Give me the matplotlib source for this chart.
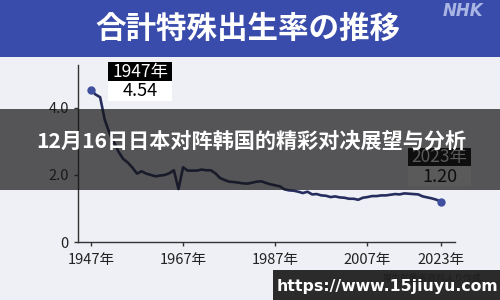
import numpy as np
import matplotlib
matplotlib.use("Agg")
import matplotlib.pyplot as plt
from matplotlib.patches import Rectangle

plt.rcParams['font.family'] = ['Noto Sans CJK JP', 'DejaVu Sans']

# total fertility rate, Japan
years = list(range(1947, 2024))
tfr = [4.54, 4.40, 4.32, 3.65, 3.26, 2.98, 2.69, 2.48, 2.37, 2.22,
       2.04, 2.11, 2.04, 2.00, 1.96, 1.98, 2.00, 2.05, 2.14, 1.58,
       2.23, 2.13, 2.13, 2.13, 2.16, 2.14, 2.14, 2.05, 1.91, 1.85,
       1.80, 1.79, 1.77, 1.75, 1.74, 1.77, 1.80, 1.81, 1.76, 1.72,
       1.69, 1.66, 1.57, 1.54, 1.53, 1.50, 1.46, 1.50, 1.42, 1.43,
       1.39, 1.38, 1.34, 1.36, 1.33, 1.32, 1.29, 1.29, 1.26, 1.32,
       1.34, 1.37, 1.37, 1.39, 1.39, 1.41, 1.43, 1.42, 1.45, 1.44,
       1.43, 1.42, 1.36, 1.33, 1.30, 1.26, 1.20]
xtick_years = [1947, 1967, 1987, 2007, 2023]
xtick_labels = [f"{y}年" for y in xtick_years]
ytick_vals = [0, 2.0, 4.0]
ytick_labels = ["0", "2.0", "4.0"]

title = "合計特殊出生率の推移"
overlay_title = "12月16日日本对阵韩国的精彩对决展望与分析"
watermark = "https://www.15jiuyu.com"
source = "厚生労働省資料より作成"

W, H = 500, 300
fig = plt.figure(figsize=(5, 3), dpi=100)
fig.patch.set_facecolor('#eef0f5')

def fx(px):
    return px / W

def fy(py):
    return 1 - py / H

# blue header
fig.patches.append(Rectangle((0, fy(57)), 1, 57 / H, transform=fig.transFigure,
                             facecolor='#3a4cab', edgecolor='none', zorder=0))
fig.text(fx(248), fy(29), title, color='white', fontsize=22, fontweight='bold',
         ha='center', va='center')
fig.text(fx(463), fy(11), "NHK", color='#a9b5e3', fontsize=12, fontweight='bold',
         style='italic', ha='center', va='center', family='DejaVu Sans')

ax = fig.add_axes([fx(78), fy(242), fx(455) - fx(78), (242 - 65) / H])
ax.set_facecolor('none')
ax.plot(years, tfr, color='#262d5e', lw=1.9, zorder=3, solid_capstyle='round')
ax.plot([years[0], years[-1]], [tfr[0], tfr[-1]], 'o', color='#3f4f9f', ms=5, zorder=4)

ax.set_xlim(1944.2, 2026.0)
ax.set_ylim(0, 5.28)
ax.set_xticks(xtick_years)
ax.set_xticklabels(xtick_labels)
ax.set_yticks(ytick_vals)
ax.set_yticklabels(ytick_labels)
for s in ['top', 'right']:
    ax.spines[s].set_visible(False)
for s in ['left', 'bottom']:
    ax.spines[s].set_color('#333333')
    ax.spines[s].set_linewidth(1.0)
ax.tick_params(axis='both', colors='#333333', labelcolor='#222222', length=3,
               width=1, labelsize=10.5)
ax.tick_params(axis='x', pad=5)

# value labels
def label_box(x0, x1, y0, y1, y2, top, bottom):
    fig.patches.append(Rectangle((fx(x0), fy(y1)), (x1 - x0) / W, (y1 - y0) / H,
                                 transform=fig.transFigure, facecolor='black',
                                 edgecolor='none', zorder=5))
    fig.patches.append(Rectangle((fx(x0), fy(y2)), (x1 - x0) / W, (y2 - y1) / H,
                                 transform=fig.transFigure, facecolor='white',
                                 edgecolor='none', zorder=5))
    fig.text(fx((x0 + x1) / 2), fy((y0 + y1) / 2), top, color='white', fontsize=12.5,
             ha='center', va='center', zorder=6)
    fig.text(fx((x0 + x1) / 2), fy((y1 + y2) / 2 + 0.5), bottom, color='black',
             fontsize=13, ha='center', va='center', zorder=6)

label_box(108, 172, 62, 81, 101, f"{years[0]}年", f"{tfr[0]:.2f}")
label_box(408, 471, 148, 166, 186, f"{years[-1]}年", f"{tfr[-1]:.2f}")

# source note
fig.text(fx(432), fy(278), source, color='#555555', fontsize=6.5,
         ha='center', va='center', zorder=6)

# dark overlay band
fig.patches.append(Rectangle((0, fy(190)), 1, (190 - 109) / H, transform=fig.transFigure,
                             facecolor='#141414', alpha=0.7, edgecolor='none', zorder=20))
fig.text(fx(251), fy(141), overlay_title, color='white', fontsize=15.2,
         fontweight='bold', ha='center', va='center', zorder=21,
         family=['Noto Sans CJK SC', 'DejaVu Sans'])

# watermark
fig.patches.append(Rectangle((fx(273), 0), 1 - fx(273), 30 / H, transform=fig.transFigure,
                             facecolor='#1a1a1a', alpha=0.92, edgecolor='none', zorder=20))
fig.text(fx(387), fy(286), watermark, color='white', fontsize=11.3, fontweight='bold',
         ha='center', va='center', zorder=21, family='DejaVu Sans')

fig.savefig('out.png', dpi=100, facecolor=fig.get_facecolor())
